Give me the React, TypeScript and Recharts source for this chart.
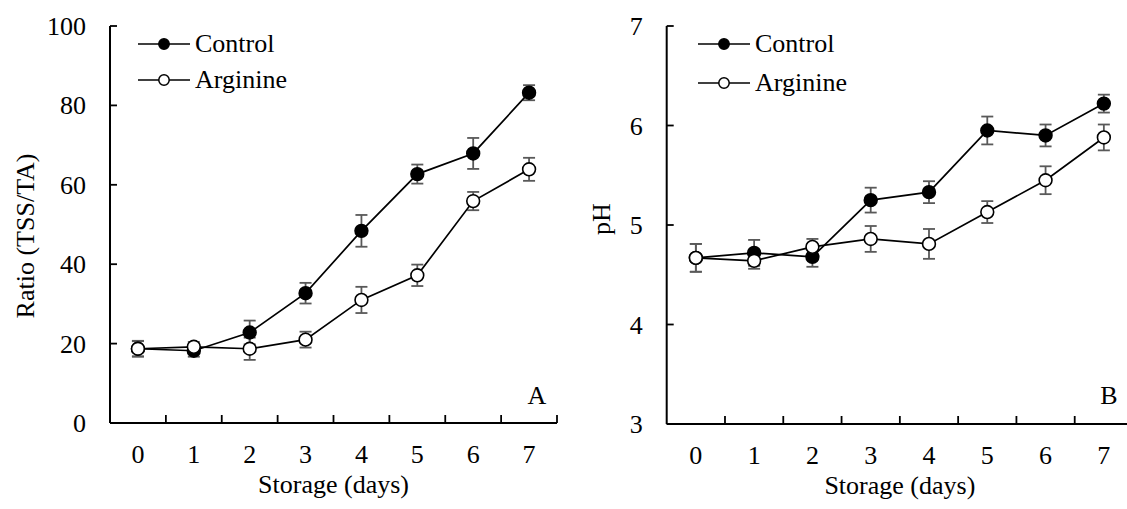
import React from "react";
import { LineChart, Line, XAxis, YAxis, ErrorBar, Legend, Customized } from "recharts";

const days = [0, 1, 2, 3, 4, 5, 6, 7];
const seriesNames = ["Control", "Arginine"];

// Panel A: ratio TSS/TA
const ratioControl = [18.7, 18.2, 22.8, 32.7, 48.4, 62.7, 67.9, 83.2];
const ratioControlSE = [1.9, 1.5, 3.0, 2.6, 4.0, 2.4, 3.9, 1.9];
const ratioArginine = [18.7, 19.2, 18.7, 21.0, 31.0, 37.2, 55.9, 63.9];
const ratioArginineSE = [2.0, 1.2, 2.8, 2.0, 3.3, 2.7, 2.3, 2.9];
const ratioTicks = [0, 20, 40, 60, 80, 100];

// Panel B: pH
const phControl = [4.67, 4.72, 4.68, 5.25, 5.33, 5.95, 5.9, 6.22];
const phControlSE = [0.14, 0.13, 0.1, 0.125, 0.11, 0.14, 0.11, 0.09];
const phArginine = [4.67, 4.64, 4.78, 4.86, 4.81, 5.13, 5.45, 5.88];
const phArginineSE = [0.14, 0.08, 0.08, 0.13, 0.15, 0.11, 0.14, 0.13];
const phTicks = [3, 4, 5, 6, 7];

const FONT = "'Liberation Serif', 'Times New Roman', serif";
const FS = 26;
const ERR = "#595959";

const build = (c: number[], cse: number[], a: number[], ase: number[]) =>
  days.map((d, i) => ({ day: d, control: c[i], controlSE: cse[i], arginine: a[i], arginineSE: ase[i] }));

const ratioData = build(ratioControl, ratioControlSE, ratioArginine, ratioArginineSE);
const phData = build(phControl, phControlSE, phArginine, phArginineSE);

// labels on days, small inward ticks on the boundaries between days
const xTicks = days.flatMap(d => [d, d + 0.5]);

const txt = { fontFamily: FONT, fontSize: FS, fill: "#000" };

const XTick = ({ x, y, payload }: any) => {
  const v = payload.value;
  if (!Number.isInteger(v)) return <line x1={x} x2={x} y1={y} y2={y - 8} stroke="#000" strokeWidth={1.8} />;
  return <text x={x} y={y + 40} textAnchor="middle" style={txt}>{v}</text>;
};

const YTick = ({ x, y, payload }: any) => (
  <g>
    <line x1={x} x2={x + 7} y1={y} y2={y} stroke="#000" strokeWidth={1.8} />
    <text x={x - 24} y={y + 9} textAnchor="end" style={txt}>{payload.value}</text>
  </g>
);

const LegendBox = ({ gap }: { gap: number }) => (
  <div style={{ fontFamily: FONT, fontSize: FS, color: "#000" }}>
    {seriesNames.map((n, i) => (
      <div key={n} style={{ display: "flex", alignItems: "center", height: gap }}>
        <svg width={52} height={14}>
          <line x1={0} x2={52} y1={7} y2={7} stroke="#000" strokeWidth={1.6} />
          <circle cx={26} cy={7} r={5.2} fill={i === 0 ? "#000" : "#fff"} stroke="#000" strokeWidth={1.5} />
        </svg>
        <span style={{ marginLeft: 5, lineHeight: 1 }}>{n}</span>
      </div>
    ))}
  </div>
);

type PanelProps = {
  data: any[]; left: number; width: number; axisWidth: number; bottom: number;
  domain: [number, number]; ticks: number[]; title: string;
  titleX: number; titleY: number; letter: string; letterX: number; legendGap: number;
};

function Panel(p: PanelProps) {
  return (
    <div style={{ position: "absolute", left: p.left, top: 0 }}>
      <LineChart width={p.width} height={509} data={p.data} margin={{ top: 26, right: 10, left: 0, bottom: 0 }}>
        <XAxis
          dataKey="day" type="number" domain={[-0.5, 7.5]} ticks={xTicks} interval={0}
          height={p.bottom} tickSize={0} tickMargin={0} tickLine={false}
          axisLine={{ stroke: "#000", strokeWidth: 2 }} tick={<XTick />}
          label={{
            content: ({ viewBox }: any) => (
              <text x={viewBox.x + viewBox.width / 2} y={viewBox.y + 70} textAnchor="middle" style={txt}>
                Storage (days)
              </text>
            ),
          }}
        />
        <YAxis
          domain={p.domain} ticks={p.ticks} interval={0} width={p.axisWidth}
          tickSize={0} tickMargin={0} tickLine={false}
          axisLine={{ stroke: "#000", strokeWidth: 2 }} tick={<YTick />}
          label={{
            content: () => (
              <text x={p.titleX} y={p.titleY} transform={`rotate(-90, ${p.titleX}, ${p.titleY})`} textAnchor="middle"
                dominantBaseline="central" style={txt}>
                {p.title}
              </text>
            ),
          }}
        />
        <Legend
          layout="vertical" align="center" verticalAlign="middle"
          wrapperStyle={{ left: 138, top: 26 - (p.legendGap - 36) / 2, width: "auto" }}
          content={() => <LegendBox gap={p.legendGap} />}
        />
        <Line dataKey="control" name="Control" stroke="#000" strokeWidth={1.7} isAnimationActive={false} activeDot={false}
          dot={{ r: 6.4, fill: "#000", stroke: "#000", strokeWidth: 1.6 }}>
          <ErrorBar dataKey="controlSE" width={6} stroke={ERR} strokeWidth={1.8} isAnimationActive={false} />
        </Line>
        <Line dataKey="arginine" name="Arginine" stroke="#000" strokeWidth={1.7} isAnimationActive={false} activeDot={false}
          dot={{ r: 6.4, fill: "#fff", stroke: "#000", strokeWidth: 1.6 }}>
          <ErrorBar dataKey="arginineSE" width={6} stroke={ERR} strokeWidth={1.8} isAnimationActive={false} />
        </Line>
        <Customized component={() => (
          <text x={p.letterX} y={404} textAnchor="middle" style={txt}>{p.letter}</text>
        )} />
      </LineChart>
    </div>
  );
}

export default function App() {
  return (
    <div style={{ position: "fixed", left: 0, top: 0, width: 1127, height: 509, overflow: "hidden", background: "#fff" }}>
      <Panel data={ratioData} left={0} width={567} axisWidth={110} bottom={86} domain={[0, 100]} ticks={ratioTicks}
        title="Ratio (TSS/TA)" titleX={25} titleY={236} letter="A" letterX={537} legendGap={36} />
      <Panel data={phData} left={560} width={583} axisWidth={106.7} bottom={85} domain={[3, 7]} ticks={phTicks}
        title="pH" titleX={41} titleY={219} letter="B" letterX={549} legendGap={38.5} />
    </div>
  );
}
